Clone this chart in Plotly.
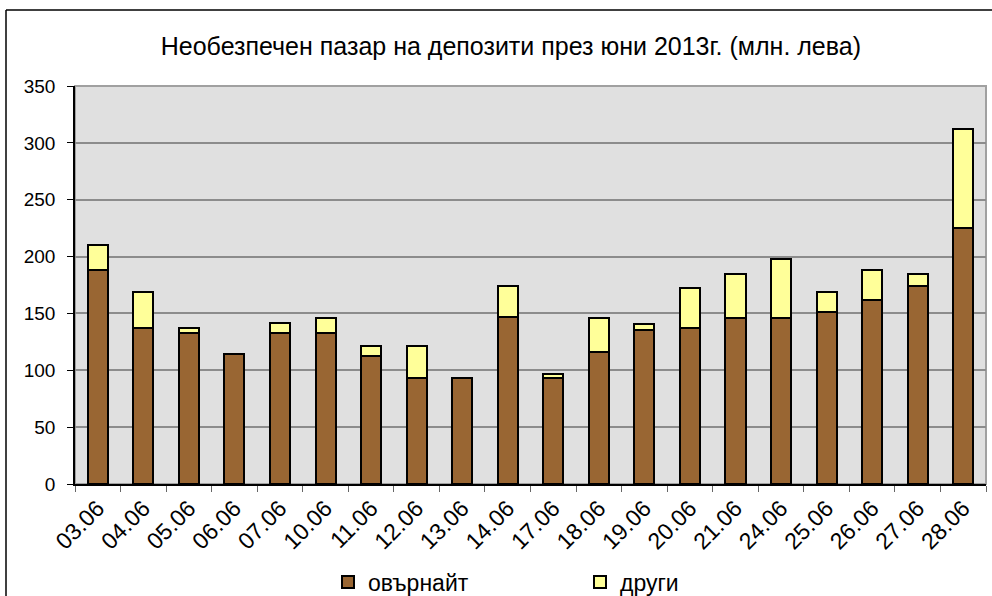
import plotly.graph_objects as go

categories = ["03.06", "04.06", "05.06", "06.06", "07.06", "10.06", "11.06", "12.06", "13.06", "14.06",
              "17.06", "18.06", "19.06", "20.06", "21.06", "24.06", "25.06", "26.06", "27.06", "28.06"]
overnight = [188, 137, 133, 114, 133, 133, 112.5, 93, 93, 147,
             93, 116, 135, 137, 146, 146, 151, 162, 174, 225]
others = [22, 31.5, 4, 0, 9, 13, 8.5, 28, 0, 27,
          4, 30, 5.5, 35, 39, 52, 18, 26, 10.5, 87]
y_ticks = [0, 50, 100, 150, 200, 250, 300, 350]

FONT = "Liberation Sans, Arial, sans-serif"

W, H = 992, 596
ML, MR, MT, MB = 75, 6, 86, 112
PW, PH = W - ML - MR, H - MT - MB

fig = go.Figure()
fig.add_trace(go.Bar(x=categories, y=overnight, name="овърнайт",
                     marker=dict(color="#996633", line=dict(color="black", width=2))))
fig.add_trace(go.Bar(x=categories, y=others, name="други",
                     marker=dict(color="#FFFF99", line=dict(color="black", width=2))))

fig.update_layout(
    barmode="stack",
    bargap=0.56,
    width=W, height=H,
    margin=dict(l=ML, r=MR, t=MT, b=MB, autoexpand=False),
    paper_bgcolor="white",
    plot_bgcolor="#E0E0E0",
    font=dict(family=FONT, color="black", size=20),
    title=dict(text="Необезпечен пазар на депозити през юни 2013г. (млн. лева)",
               x=0.515, xanchor="center", yref="container", y=1 - 46 / H, yanchor="middle",
               font=dict(size=25, family=FONT, color="black")),
    showlegend=True,
    legend=dict(orientation="h", traceorder="normal", x=328 / W, xanchor="left",
                xref="container", yref="container", y=14 / H, yanchor="middle",
                font=dict(size=23, family=FONT), itemwidth=30,
                entrywidth=207, entrywidthmode="pixels", bgcolor="rgba(0,0,0,0)"),
    xaxis=dict(type="category", tickangle=-45, tickson="boundaries", ticks="outside",
               ticklen=6, tickcolor="#666666", showline=True, linecolor="black", linewidth=1.5,
               tickfont=dict(size=23, family=FONT), showgrid=False, automargin=False),
    yaxis=dict(range=[0, 350], tickvals=y_ticks, ticks="outside", ticklen=6, tickcolor="black",
               showline=True, linecolor="black", linewidth=1.5, gridcolor="#8C8C8C", gridwidth=1.5,
               tickfont=dict(size=19, family=FONT), zeroline=False, automargin=False,
               ticklabelstandoff=8),
)

# plot-area border (grey)
fig.add_shape(type="rect", xref="paper", yref="paper", x0=0, x1=1, y0=0, y1=1,
              line=dict(color="#A0A0A0", width=2), layer="below")
# outer chart border (left and top visible)
bx = (6 - ML) / PW
by = (H - MB - 10) / PH
fig.add_shape(type="line", xref="paper", yref="paper", x0=bx, x1=bx, y0=-0.5, y1=by,
              line=dict(color="black", width=1.5))
fig.add_shape(type="line", xref="paper", yref="paper", x0=bx, x1=1.2, y0=by, y1=by,
              line=dict(color="black", width=1.5))

fig.write_html("out.html", config={"displayModeBar": False},
               post_script="document.body.style.margin='0px';")
